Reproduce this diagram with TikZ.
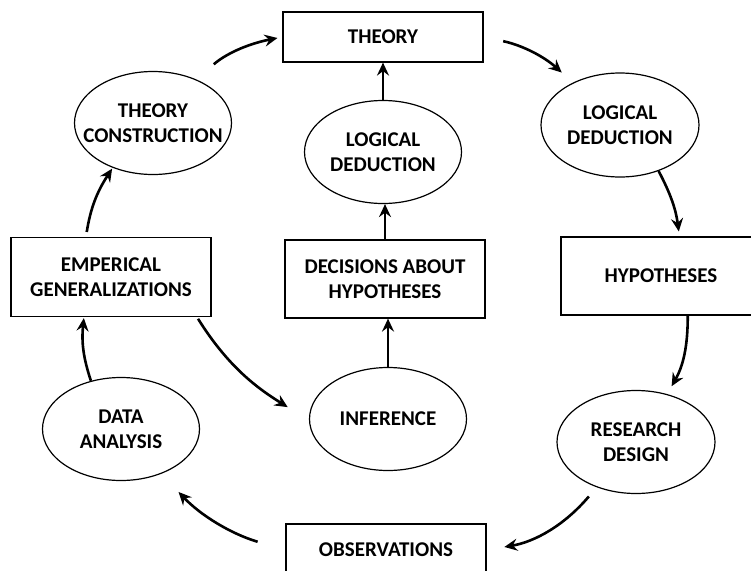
\documentclass[tikz,border=0pt]{standalone}
\usepackage{fontspec}
\setmainfont{Carlito}
\usepackage{tikz}
\usetikzlibrary{arrows.meta,positioning,shapes.geometric}
\tikzset{
 box/.style={draw=black,line width=1.2pt,rectangle,align=center,
   minimum width=200pt,minimum height=79pt,inner sep=0pt,
   font=\fontsize{21}{25}\selectfont\bfseries},
 oval/.style={box,ellipse,minimum width=157pt,minimum height=103pt,inner sep=-25pt},
 arr/.style={-{Stealth[length=13pt,width=12pt,inset=4.5pt]},line width=2.6pt}
}

\begin{document}
\begin{tikzpicture}[x=1pt,y=1pt]
\useasboundingbox (0,0) rectangle (751,-570);
\node[box,minimum height=50pt] (th) at (383,-37) {THEORY};
\node[oval] (tc) at (153,-123) {THEORY\\CONSTRUCTION};
\node[oval] (ldm) at (383,-152) {LOGICAL\\DEDUCTION};
\node[oval,minimum width=158pt,minimum height=104pt] (ldr) at (620,-125) {LOGICAL\\DEDUCTION};
\node[box] (eg) at (111,-277) {EMPERICAL\\GENERALIZATIONS};
\node[box,minimum height=78pt] (dh) at (385,-279) {DECISIONS ABOUT\\HYPOTHESES};
\node[box,minimum height=78pt] (hy) at (661,-276) {HYPOTHESES};
\node[oval] (da) at (121,-429) {DATA\\ANALYSIS};
\node[oval] (inf) at (388,-419) {INFERENCE};
\node[oval,minimum width=158pt] (rd) at (636,-442) {RESEARCH\\DESIGN};
\node[box,minimum height=52pt] (ob) at (386,-550) {OBSERVATIONS};
\foreach \a/\b in {inf/dh,dh/ldm,ldm/th} \draw[arr] (\a.north) -- (\a.north |- \b.south);
\draw[arr,shorten <=23pt,shorten >=5pt] (tc.45) to[bend left=15] (th.west);
\draw[arr,shorten <=20pt,shorten >=15pt] (th.east) to[bend left=15] (ldr.138);
\draw[arr,shorten >=5pt] (ldr.-50) to[bend left=10] (hy.65);
\draw[arr,shorten >=9pt] (hy.-56) to[bend left=15] (rd.57);
\draw[arr,shorten <=12pt,shorten >=18pt] (rd.229) to[bend left=20] (ob.east);
\draw[arr,shorten <=29pt,shorten >=25pt] (ob.west) to[bend left=15] (da.-48);
\draw[arr,shorten >=1pt] (da.122) to[bend left=12] (eg.-124);
\draw[arr,shorten <=5pt,shorten >=1pt] (eg.122) to[bend left=12] (tc.228);
\draw[arr,shorten <=2pt,shorten >=25pt] (eg.-25) to[out=-58,in=148] (inf.181);
\end{tikzpicture}
\end{document}
